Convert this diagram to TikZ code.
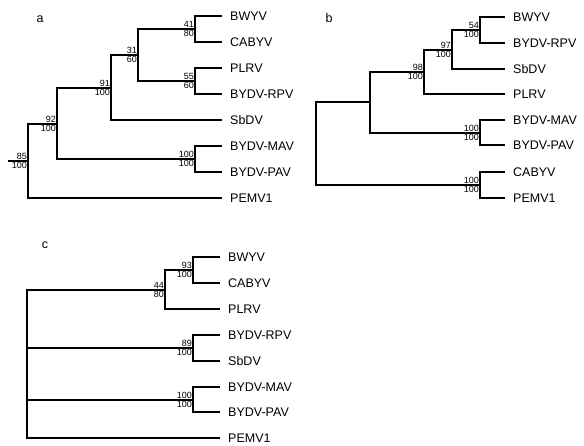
\documentclass[tikz,border=0pt]{standalone}
\usepackage{fontspec}
\setmainfont{Liberation Sans}
\usetikzlibrary{positioning}

\begin{document}
\begin{tikzpicture}[x=1pt,y=-1pt,line join=miter]
\path[fill=white,use as bounding box] (0,0) rectangle (584,446);
\tikzset{branch/.style={draw=black,line width=1.5pt},leaf/.style={anchor=west,inner xsep=8pt,inner ysep=0pt,font=\fontsize{12.5}{14}\selectfont},boot/.style={inner sep=0.9pt,font=\fontsize{9}{10}\selectfont},panel/.style={font=\fontsize{12.5}{14}\selectfont}}
% panel a
\node[panel] (pa) at (40,19) {a};
\node[leaf] (aBWYV) at (222,16) {BWYV};
\node[leaf] (aCABYV) at (222,42) {CABYV};
\node[leaf] (aPLRV) at (222,68) {PLRV};
\node[leaf] (aRPV) at (222,94) {BYDV-RPV};
\node[leaf] (aSbDV) at (222,120) {SbDV};
\node[leaf] (aMAV) at (222,146) {BYDV-MAV};
\node[leaf] (aPAV) at (222,172) {BYDV-PAV};
\node[leaf] (aPEMV) at (222,198) {PEMV1};
\coordinate (a1) at (195,29);
\coordinate (a2) at (195,81);
\coordinate (a3) at (138,55);
\coordinate (a4) at (111,88);
\coordinate (a5) at (195,159);
\coordinate (a6) at (57,124);
\coordinate (a7) at (28,161);
\coordinate (aroot) at (8,161);
\draw[branch] (aBWYV.west) -| (a1) |- (aCABYV.west);
\draw[branch] (aPLRV.west) -| (a2) |- (aRPV.west);
\draw[branch] (a1) -| (a3) |- (a2);
\draw[branch] (a3) -| (a4) |- (aSbDV.west);
\draw[branch] (aMAV.west) -| (a5) |- (aPAV.west);
\draw[branch] (a4) -| (a6) |- (a5);
\draw[branch] (a6) -| (a7) |- (aPEMV.west);
\draw[branch] (aroot) -- (a7);
% panel b
\node[panel] (pb) at (329,18) {b};
\node[leaf] (bBWYV) at (505,17) {BWYV};
\node[leaf] (bRPV) at (505,43) {BYDV-RPV};
\node[leaf] (bSbDV) at (505,69) {SbDV};
\node[leaf] (bPLRV) at (505,94) {PLRV};
\node[leaf] (bMAV) at (505,120) {BYDV-MAV};
\node[leaf] (bPAV) at (505,145) {BYDV-PAV};
\node[leaf] (bCABYV) at (505,172) {CABYV};
\node[leaf] (bPEMV) at (505,198) {PEMV1};
\coordinate (b1) at (480,30);
\coordinate (b2) at (452,50);
\coordinate (b3) at (424,72);
\coordinate (b4) at (480,133);
\coordinate (b5) at (370,102);
\coordinate (b6) at (480,185);
\coordinate (b7) at (316,143);
\draw[branch] (bBWYV.west) -| (b1) |- (bRPV.west);
\draw[branch] (b1) -| (b2) |- (bSbDV.west);
\draw[branch] (b2) -| (b3) |- (bPLRV.west);
\draw[branch] (bMAV.west) -| (b4) |- (bPAV.west);
\draw[branch] (b3) -| (b5) |- (b4);
\draw[branch] (bCABYV.west) -| (b6) |- (bPEMV.west);
\draw[branch] (b5) -| (b7) |- (b6);
% panel c
\node[panel] (pc) at (45,245) {c};
\node[leaf] (cBWYV) at (220,257) {BWYV};
\node[leaf] (cCABYV) at (220,283) {CABYV};
\node[leaf] (cPLRV) at (220,309) {PLRV};
\node[leaf] (cRPV) at (220,335) {BYDV-RPV};
\node[leaf] (cSbDV) at (220,361) {SbDV};
\node[leaf] (cMAV) at (220,387) {BYDV-MAV};
\node[leaf] (cPAV) at (220,412) {BYDV-PAV};
\node[leaf] (cPEMV) at (220,438) {PEMV1};
\coordinate (c1) at (193,270);
\coordinate (c2) at (165,290);
\coordinate (c3) at (193,348);
\coordinate (c4) at (193,400);
\coordinate (c5) at (27,290);
\draw[branch] (cBWYV.west) -| (c1) |- (cCABYV.west);
\draw[branch] (c1) -| (c2) |- (cPLRV.west);
\draw[branch] (cRPV.west) -| (c3) |- (cSbDV.west);
\draw[branch] (cMAV.west) -| (c4) |- (cPAV.west);
\draw[branch] (c2) -- (c5) |- (cPEMV.west);
\draw[branch] (c3) -- (c3 -| c5);
\draw[branch] (c4) -- (c4 -| c5);
% bootstrap values, above and below the branch
\foreach \n/\up/\lo in {a1/41/80,a2/55/60,a3/31/60,a4/91/100,a5/100/100,a6/92/100,a7/85/100,
  b1/54/100,b2/97/100,b3/98/100,b4/100/100,b6/100/100,
  c1/93/100,c2/44/80,c3/89/100,c4/100/100}{
  \node[boot,anchor=south east] (\n up) at (\n) {\up};
  \node[boot,anchor=north east] (\n lo) at (\n) {\lo};
}
\end{tikzpicture}
\end{document}
